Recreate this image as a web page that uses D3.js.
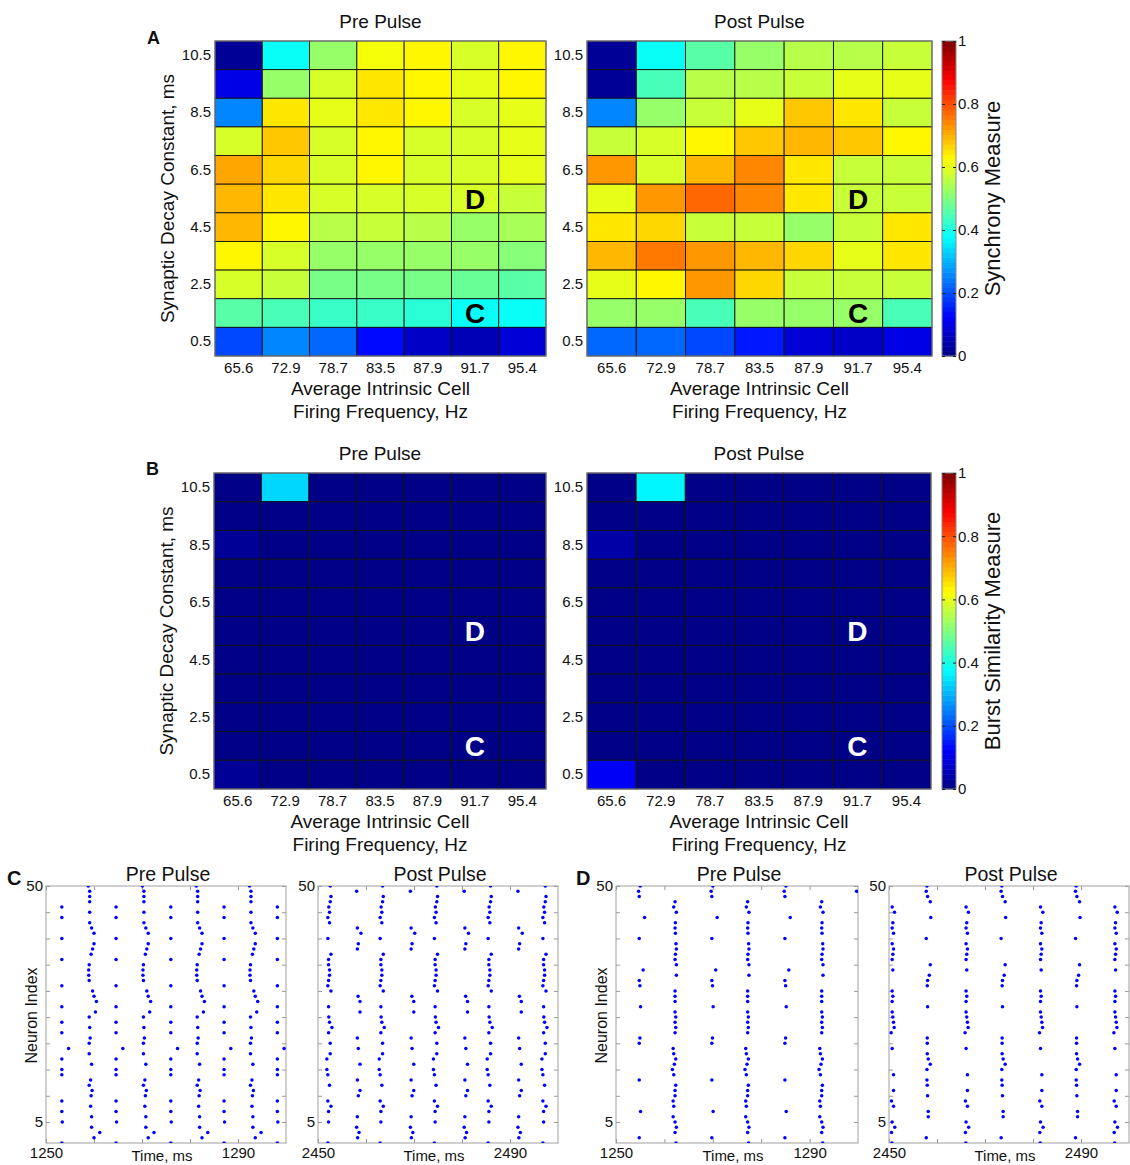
<!DOCTYPE html>
<html><head><meta charset="utf-8">
<script src="https://cdn.jsdelivr.net/npm/d3@7"></script>
<style>body{margin:0;background:#fff;} text{font-family:"Liberation Sans",Arial,Helvetica,sans-serif;fill:#111;}</style>
</head><body><svg id="c" width="1130" height="1165"></svg>
<script>
// ---------- DATA ----------
const freqLabels = ["65.6","72.9","78.7","83.5","87.9","91.7","95.4"];
const decayLabels = ["10.5","9.5","8.5","7.5","6.5","5.5","4.5","3.5","2.5","1.5","0.5"];
const decayTickLabels = ["10.5","8.5","6.5","4.5","2.5","0.5"];
const colorbarTicks = [0,0.2,0.4,0.6,0.8,1];

// Synchrony measure, rows from 10.5 (top) to 0.5 (bottom)
const syncPre = [
 [0.03,0.39,0.53,0.615,0.625,0.59,0.625],
 [0.10,0.53,0.59,0.65,0.625,0.60,0.625],
 [0.26,0.65,0.60,0.645,0.625,0.59,0.60],
 [0.59,0.68,0.59,0.625,0.59,0.59,0.60],
 [0.71,0.66,0.59,0.625,0.59,0.58,0.60],
 [0.69,0.645,0.58,0.59,0.58,0.58,0.565],
 [0.70,0.625,0.55,0.565,0.55,0.53,0.54],
 [0.625,0.59,0.53,0.53,0.53,0.52,0.50],
 [0.58,0.565,0.49,0.49,0.49,0.475,0.46],
 [0.46,0.45,0.425,0.425,0.41,0.39,0.38],
 [0.20,0.26,0.225,0.14,0.075,0.06,0.085]
];
const syncPost = [
 [0.02,0.385,0.46,0.53,0.55,0.55,0.565],
 [0.02,0.45,0.55,0.55,0.575,0.60,0.605],
 [0.26,0.53,0.575,0.60,0.675,0.655,0.575],
 [0.565,0.59,0.625,0.68,0.69,0.675,0.635],
 [0.725,0.59,0.69,0.74,0.645,0.565,0.565],
 [0.60,0.725,0.77,0.74,0.65,0.575,0.565],
 [0.65,0.66,0.565,0.565,0.52,0.575,0.65],
 [0.70,0.75,0.72,0.695,0.66,0.60,0.65],
 [0.60,0.625,0.725,0.66,0.575,0.575,0.575],
 [0.52,0.52,0.45,0.52,0.53,0.53,0.45],
 [0.225,0.225,0.19,0.15,0.085,0.075,0.10]
];
// Burst similarity measure
const burstPre = [
 [0.015,0.33,0.015,0.015,0.015,0.015,0.015],
 [0.015,0.015,0.015,0.015,0.015,0.015,0.015],
 [0.03,0.015,0.015,0.015,0.015,0.015,0.015],
 [0.015,0.015,0.015,0.015,0.015,0.015,0.015],
 [0.015,0.015,0.015,0.015,0.015,0.015,0.015],
 [0.015,0.015,0.015,0.015,0.015,0.015,0.015],
 [0.015,0.015,0.015,0.015,0.015,0.015,0.015],
 [0.015,0.015,0.015,0.015,0.015,0.015,0.015],
 [0.015,0.015,0.015,0.015,0.015,0.015,0.015],
 [0.015,0.015,0.015,0.015,0.015,0.015,0.015],
 [0.03,0.015,0.015,0.015,0.015,0.015,0.015]
];
const burstPost = [
 [0.015,0.36,0.015,0.015,0.015,0.015,0.015],
 [0.015,0.015,0.015,0.015,0.015,0.015,0.015],
 [0.035,0.015,0.015,0.015,0.015,0.015,0.015],
 [0.015,0.015,0.015,0.015,0.015,0.015,0.015],
 [0.015,0.015,0.015,0.015,0.015,0.015,0.015],
 [0.015,0.015,0.015,0.015,0.015,0.015,0.015],
 [0.015,0.015,0.015,0.015,0.015,0.015,0.015],
 [0.015,0.015,0.015,0.015,0.015,0.015,0.015],
 [0.015,0.015,0.015,0.015,0.015,0.015,0.015],
 [0.015,0.015,0.015,0.015,0.015,0.015,0.015],
 [0.11,0.015,0.015,0.015,0.015,0.015,0.015]
];

// Raster data: [neuron, offset ms] within each burst column; burst column times (ms)
const cPreDense = [[50,-0.2],[49,0.1],[48,0.1],[47,0.1],[45,0.1],[43,0.1],[42,0.5],[41,1.0],[39,1.0],[38,0.7],[37,0.4],[35,0],[34,-0.1],[33,-0.1],[32,0],[30,0.7],[29,1.0],[28,1.5],[26,1.3],[25,0],[23,0.1],[21,0.2],[20,0],[18,0],[16,0.5],[13,0.3],[12,0],[11,0.6],[10,0.4],[8,0.3],[6,0.5],[4,0.5],[3,2.2],[2,1.0]];
const cPreSparse = [[46,0],[44,0],[40,0],[36,0],[31,0],[27,0],[24,0],[22,0],[19,1.4],[17,0],[15,0],[14,0],[9,0],[7,0],[5,0.1],[1,0]];
const cPreDenseT = [1259.0,1270.3,1281.5,1292.6];
const cPreSparseT = [1253.3,1264.6,1276.0,1287.1,1298.2];

const cPostDense = [[50,0.15],[48,0.3],[47,0.15],[46,-0.15],[45,0],[44,-0.35],[43,0],[40,-0.35],[37,0.3],[36,-0.2],[35,-0.2],[34,0],[33,0],[32,-0.2],[31,-0.35],[30,0.3],[27,-0.2],[25,-0.15],[24,0],[23,0.5],[22,-0.2],[20,0.15],[18,0.15],[17,-0.55],[15,-0.55],[14,-0.35],[12,0],[9,-0.35],[8,0.3],[7,-0.2],[5,-0.2],[1,-0.35]];
const cPostSparse = [[49,-0.15],[42,0],[41,0.75],[39,0.2],[38,0],[29,0.15],[28,0.55],[26,0.55],[21,0],[19,0.2],[16,0.55],[13,0],[11,0.55],[10,0.2],[6,0],[4,-0.15],[3,0.35],[2,0.05]];
const cPostDenseT = [2452.4,2463.3,2474.6,2485.8,2497.2];
const cPostSparseT = [2458.2,2469.4,2480.6,2491.8];

const dPreDense = [[47,0],[46,-0.27],[45,0.27],[43,0.07],[42,0],[41,0.07],[39,0.2],[38,0.27],[37,0.07],[36,0],[35,0.27],[33,0.27],[30,0],[29,0],[28,0],[26,0],[25,0.14],[24,0],[23,0.14],[22,0],[19,-0.4],[18,-0.27],[17,0.14],[16,-0.14],[15,-0.55],[14,-0.27],[12,0.14],[11,0],[10,0],[9,-0.4],[8,-0.27],[6,-0.4],[5,0],[4,0.27],[3,0],[1,0.2]];
const dPreSparse = [[50,0.2],[49,-0.14],[48,0],[44,1.1],[40,0],[34,0.8],[32,0],[31,0.14],[27,0.27],[21,0.14],[20,0],[13,0],[7,0.27],[2,0]];
const dPreDenseT = [1262.2,1277.2,1292.5];
const dPreSparseT = [1254.8,1269.8,1284.9];
const dPreEdge = [[49,1299.7]];

const dPostDense = [[46,-0.14],[45,0.35],[43,0],[42,-0.14],[41,0.14],[39,-0.14],[38,0.14],[37,0],[36,-0.14],[34,0],[30,-0.14],[29,0],[28,-0.14],[26,-0.14],[25,0],[24,0.14],[23,0.28],[22,-0.35],[19,-0.14],[14,0.14],[11,0.14],[9,-0.28],[8,0.14],[5,-0.14],[4,0.4],[3,-0.28],[1,-0.2]];
const dPostSparse = [[50,0],[49,-0.14],[48,0.14],[47,0.7],[44,0.8],[40,-0.14],[35,0.7],[33,0.5],[32,0.14],[31,0.07],[27,0.14],[21,0.07],[20,0.07],[18,0.07],[17,0.28],[16,0.7],[15,0],[13,0],[12,0.07],[10,0.14],[7,0.28],[6,0.28],[2,-0.14]];
const dPostDenseT = [2450.8,2466.2,2481.7,2497.2];
const dPostSparseT = [2457.9,2473.5,2489.0];

// ---------- DRAWING ----------
const svg = d3.select("#c");
const FONT = '"Liberation Sans",Arial,Helvetica,sans-serif';
function jet(v){
  v = Math.max(0, Math.min(1, v));
  const idx = Math.min(63, Math.floor(v*64));
  const q = (idx + 0.5)/64;
  const c = x => Math.max(0, Math.min(1, x));
  const r = c(1.5 - Math.abs(4*q - 3)), g = c(1.5 - Math.abs(4*q - 2)), b = c(1.5 - Math.abs(4*q - 1));
  return d3.rgb(r*255, g*255, b*255).toString();
}

function heatmap(opt){
  const g = svg.append("g");
  const x = d3.scaleBand().domain(freqLabels).range([opt.x0, opt.x1]);
  const y = d3.scaleBand().domain(decayLabels).range([opt.y0, opt.y1]);
  const cells = [];
  opt.data.forEach((row,i)=>row.forEach((v,j)=>cells.push({r:decayLabels[i], c:freqLabels[j], v})));
  g.selectAll("rect.cell").data(cells).enter().append("rect")
    .attr("x", d=>x(d.c)).attr("y", d=>y(d.r))
    .attr("width", x.bandwidth()).attr("height", y.bandwidth())
    .attr("fill", d=>jet(d.v)).attr("stroke","#111").attr("stroke-width",0.9);
  g.append("rect").attr("x",opt.x0).attr("y",opt.y0).attr("width",opt.x1-opt.x0).attr("height",opt.y1-opt.y0)
    .attr("fill","none").attr("stroke","#8a8a8a").attr("stroke-width",1);
  const ax = g.append("g").attr("transform",`translate(0,${opt.y1})`)
    .call(d3.axisBottom(x).tickSize(0).tickPadding(6));
  ax.select(".domain").remove();
  ax.selectAll("text").attr("font-size",15).attr("font-family",FONT).attr("fill","#111");
  const ay = g.append("g").attr("transform",`translate(${opt.x0},0)`)
    .call(d3.axisLeft(y).tickValues(decayTickLabels).tickSize(0).tickPadding(4));
  ay.select(".domain").remove();
  ay.selectAll("text").attr("font-size",15).attr("font-family",FONT).attr("fill","#111");
  const cx = (opt.x0+opt.x1)/2;
  g.append("text").attr("x",cx).attr("y",opt.y0-13).attr("text-anchor","middle").attr("font-size",19).text(opt.title);
  g.append("text").attr("x",cx).attr("y",opt.y1+39).attr("text-anchor","middle").attr("font-size",19).text("Average Intrinsic Cell");
  g.append("text").attr("x",cx).attr("y",opt.y1+62).attr("text-anchor","middle").attr("font-size",19).text("Firing Frequency, Hz");
  if(opt.ylabel){
    g.append("text").attr("transform",`translate(${opt.x0-41},${(opt.y0+opt.y1)/2}) rotate(-90)`)
      .attr("text-anchor","middle").attr("font-size",19).text(opt.ylabel);
  }
  [["D","5.5"],["C","1.5"]].forEach(([t,r])=>{
    g.append("text").attr("x", x("91.7")+x.bandwidth()/2).attr("y", y(r)+y.bandwidth()/2+10)
      .attr("text-anchor","middle").attr("font-size",28).attr("font-weight","bold")
      .style("fill",opt.letterColor).text(t);
  });
}

function colorbar(opt){
  const g = svg.append("g");
  const s = d3.scaleLinear().domain([0,1]).range([opt.y1,opt.y0]);
  const steps = d3.range(64);
  g.selectAll("rect.cb").data(steps).enter().append("rect")
    .attr("x",opt.x0).attr("width",opt.x1-opt.x0)
    .attr("y", i=>s((i+1)/64)).attr("height", i=>s(i/64)-s((i+1)/64)+0.5)
    .attr("fill", i=>jet((i+0.5)/64));
  g.append("rect").attr("x",opt.x0).attr("y",opt.y0).attr("width",opt.x1-opt.x0).attr("height",opt.y1-opt.y0)
    .attr("fill","none").attr("stroke","#8a8a8a");
  const ar = g.append("g").attr("transform",`translate(${opt.x1},0)`)
    .call(d3.axisRight(s).tickValues(colorbarTicks).tickSize(-3).tickPadding(4).tickFormat(d3.format("")));
  ar.select(".domain").remove();
  ar.selectAll("line").attr("stroke","#222");
  ar.selectAll("text").attr("font-size",15).attr("font-family",FONT).attr("fill","#111").attr("x",2);
  const al = g.append("g").attr("transform",`translate(${opt.x0},0)`)
    .call(d3.axisLeft(s).tickValues(colorbarTicks).tickSize(-3).tickFormat(""));
  al.select(".domain").remove();
  al.selectAll("line").attr("stroke","#222");
  g.append("text").attr("transform",`translate(${opt.lx},${(opt.y0+opt.y1)/2}) rotate(-90)`)
    .attr("text-anchor","middle").attr("font-size",22).text(opt.label);
}

heatmap({x0:215,x1:546,y0:41,y1:356,data:syncPre,title:"Pre Pulse",ylabel:"Synaptic Decay Constant, ms",letterColor:"#000"});
heatmap({x0:587,x1:932,y0:41,y1:356,data:syncPost,title:"Post Pulse",letterColor:"#000"});
colorbar({x0:942,x1:956,y0:41,y1:356,label:"Synchrony Measure",lx:1000});
heatmap({x0:214,x1:546,y0:473,y1:789,data:burstPre,title:"Pre Pulse",ylabel:"Synaptic Decay Constant, ms",letterColor:"#fff"});
heatmap({x0:587,x1:931,y0:473,y1:789,data:burstPost,title:"Post Pulse",letterColor:"#fff"});
colorbar({x0:942,x1:956,y0:473,y1:789,label:"Burst Similarity Measure",lx:1000});

svg.append("text").attr("x",147).attr("y",44).attr("font-size",18).attr("font-weight","bold").text("A");
svg.append("text").attr("x",146).attr("y",475).attr("font-size",18).attr("font-weight","bold").text("B");
svg.append("text").attr("x",7).attr("y",885).attr("font-size",20).attr("font-weight","bold").text("C");
svg.append("text").attr("x",576).attr("y",885).attr("font-size",20).attr("font-weight","bold").text("D");

let clipN = 0;
function raster(opt){
  const g = svg.append("g");
  const x = d3.scaleLinear().domain([opt.t0, opt.t0+50]).range([opt.x0, opt.x1]);
  const y = d3.scaleLinear().domain([1,50]).range([opt.y1, opt.y0]);
  const id = "clip"+(clipN++);
  g.append("clipPath").attr("id",id).append("rect")
    .attr("x",opt.x0).attr("y",opt.y0).attr("width",opt.x1-opt.x0).attr("height",opt.y1-opt.y0);
  const spikes = [];
  opt.denseT.forEach(t=>opt.dense.forEach(([n,o])=>spikes.push([n,t+o])));
  opt.sparseT.forEach(t=>opt.sparse.forEach(([n,o])=>spikes.push([n,t+o])));
  (opt.extra||[]).forEach(s=>spikes.push(s));
  const tv = d3.range(opt.t0, opt.t0+41, 10);
  const fmt = d => (d===opt.t0 || d===opt.t0+40) ? String(d) : "";
  const ab = g.append("g").attr("transform",`translate(0,${opt.y1})`)
    .call(d3.axisBottom(x).tickValues(tv).tickSizeInner(-4).tickSizeOuter(0).tickPadding(4).tickFormat(fmt));
  const at = g.append("g").attr("transform",`translate(0,${opt.y0})`)
    .call(d3.axisTop(x).tickValues(tv).tickSizeInner(-4).tickSizeOuter(0).tickFormat(""));
  const yv = d3.range(5,51,5);
  const al = g.append("g").attr("transform",`translate(${opt.x0},0)`)
    .call(d3.axisLeft(y).tickValues(yv).tickSizeInner(-4).tickSizeOuter(0).tickPadding(3).tickFormat(d=>(d===50||d===5)?String(d):""));
  const ar = g.append("g").attr("transform",`translate(${opt.x1},0)`)
    .call(d3.axisRight(y).tickValues(yv).tickSizeInner(-4).tickSizeOuter(0).tickFormat(""));
  [ab,at,al,ar].forEach(a=>{
    a.select(".domain").remove();
    a.selectAll("line").attr("stroke","#999");
    a.selectAll("text").attr("font-size",15).attr("font-family",FONT).attr("fill","#111");
  });
  g.append("rect").attr("x",opt.x0).attr("y",opt.y0).attr("width",opt.x1-opt.x0).attr("height",opt.y1-opt.y0)
    .attr("fill","none").attr("stroke","#a0a0a0");
  g.append("g").attr("clip-path",`url(#${id})`).selectAll("circle").data(spikes).enter().append("circle")
    .attr("cx",d=>x(d[1])).attr("cy",d=>y(d[0])).attr("r",1.75).attr("fill","#0000ff");
  const cx = (opt.x0+opt.x1)/2;
  g.append("text").attr("x",cx+2).attr("y",opt.y0-5).attr("text-anchor","middle").attr("font-size",19.5).text(opt.title);
  g.append("text").attr("x",cx-4).attr("y",opt.y1+18).attr("text-anchor","middle").attr("font-size",15).text("Time, ms");
  if(opt.ylabel){
    g.append("text").attr("transform",`translate(${opt.x0-9},${(opt.y0+opt.y1)/2+1}) rotate(-90)`)
      .attr("text-anchor","middle").attr("font-size",16).text("Neuron Index");
  }
}

raster({x0:46,x1:286,y0:886,y1:1143,t0:1250,title:"Pre Pulse",ylabel:true,dense:cPreDense,sparse:cPreSparse,denseT:cPreDenseT,sparseT:cPreSparseT});
raster({x0:318,x1:558,y0:886,y1:1143,t0:2450,title:"Post Pulse",dense:cPostDense,sparse:cPostSparse,denseT:cPostDenseT,sparseT:cPostSparseT});
raster({x0:616,x1:858,y0:886,y1:1143,t0:1250,title:"Pre Pulse",ylabel:true,dense:dPreDense,sparse:dPreSparse,denseT:dPreDenseT,sparseT:dPreSparseT,extra:dPreEdge});
raster({x0:889,x1:1129,y0:886,y1:1143,t0:2450,title:"Post Pulse",dense:dPostDense,sparse:dPostSparse,denseT:dPostDenseT,sparseT:dPostSparseT});
</script></body></html>
